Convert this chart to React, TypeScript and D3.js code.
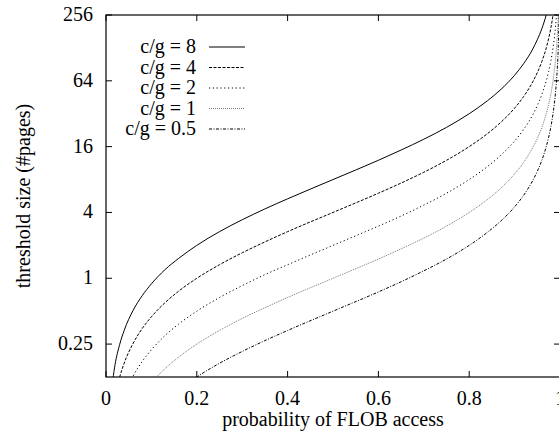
import React, { useEffect, useRef } from 'react';
import * as d3 from 'd3';

// probability of FLOB access (x) at which the curves were read
const probs = [0.01, 0.02, 0.03, 0.04, 0.06, 0.08, 0.1, 0.13, 0.16, 0.2, 0.25, 0.3, 0.35, 0.4, 0.5, 0.6, 0.65, 0.7, 0.75, 0.8, 0.84, 0.87, 0.9, 0.92, 0.94, 0.95, 0.96, 0.97, 0.975, 0.98, 0.985, 0.99, 0.993, 0.996, 0.998];

// threshold size (#pages), one list per c/g ratio
const cg8 = [0.0808, 0.163, 0.247, 0.333, 0.511, 0.696, 0.889, 1.20, 1.52, 2.00, 2.67, 3.43, 4.31, 5.33, 8.00, 12.0, 14.9, 18.7, 24.0, 32.0, 42.0, 53.5, 72.0, 92.0, 125, 152, 192, 259, 312, 392, 525, 792, 1135, 1992, 3992];
const cg4 = [0.0404, 0.0816, 0.124, 0.167, 0.255, 0.348, 0.444, 0.598, 0.762, 1.00, 1.33, 1.71, 2.15, 2.67, 4.00, 6.00, 7.43, 9.33, 12.0, 16.0, 21.0, 26.8, 36.0, 46.0, 62.7, 76.0, 96.0, 129, 156, 196, 263, 396, 567, 996, 1996];
const cg2 = [0.0202, 0.0408, 0.0619, 0.0833, 0.128, 0.174, 0.222, 0.299, 0.381, 0.500, 0.667, 0.857, 1.08, 1.33, 2.00, 3.00, 3.71, 4.67, 6.00, 8.00, 10.5, 13.4, 18.0, 23.0, 31.3, 38.0, 48.0, 64.7, 78.0, 98.0, 131, 198, 284, 498, 998];
const cg1 = [0.0101, 0.0204, 0.0309, 0.0417, 0.0638, 0.0870, 0.111, 0.149, 0.190, 0.250, 0.333, 0.429, 0.538, 0.667, 1.00, 1.50, 1.86, 2.33, 3.00, 4.00, 5.25, 6.69, 9.00, 11.5, 15.7, 19.0, 24.0, 32.3, 39.0, 49.0, 65.7, 99.0, 142, 249, 499];
const cg05 = [0.00505, 0.0102, 0.0155, 0.0208, 0.0319, 0.0435, 0.0556, 0.0747, 0.0952, 0.125, 0.167, 0.214, 0.269, 0.333, 0.500, 0.750, 0.929, 1.17, 1.50, 2.00, 2.63, 3.35, 4.50, 5.75, 7.83, 9.50, 12.0, 16.2, 19.5, 24.5, 32.8, 49.5, 70.9, 125, 250];

const seriesLabels = ['c/g = 8', 'c/g = 4', 'c/g = 2', 'c/g = 1', 'c/g = 0.5'];
const seriesValues = [cg8, cg4, cg2, cg1, cg05];

const xTicks = [0, 0.2, 0.4, 0.6, 0.8, 1];
const xTickLabels = ['0', '0.2', '0.4', '0.6', '0.8', '1'];
const yTicks = [0.25, 1, 4, 16, 64, 256];
const yTickLabels = ['0.25', '1', '4', '16', '64', '256'];

const styles = [
    { dash: null, color: '#000' },
    { dash: '3,1.5', color: '#000' },
    { dash: '1.2,2.6', color: '#000' },
    { dash: '1,1', color: '#777' },
    { dash: '3,1.5,1,1.5', color: '#000' },
];

const App = () => {
    const svgRef = useRef<SVGSVGElement>(null);
    const width = 559;
    const height = 432;
    const margin = { top: 15, right: -1, bottom: 55, left: 106 };
    const font = "'Liberation Serif', Tinos, 'Times New Roman', Times, 'DejaVu Serif', serif";

    useEffect(() => {
        const svg = d3.select(svgRef.current);
        svg.selectAll('*').remove();

        const x = d3.scaleLinear()
            .domain([0, 1])
            .range([margin.left, width - margin.right]);

        const y = d3.scaleLog()
            .base(2)
            .domain([0.125, 256])
            .range([height - margin.bottom, margin.top]);

        const x0 = x(0), x1 = x(1), yTop = y(256), yBot = y(0.125);

        svg.append('defs')
            .append('clipPath')
            .attr('id', 'plot-clip')
            .append('rect')
            .attr('x', x0)
            .attr('y', yTop)
            .attr('width', x1 - x0)
            .attr('height', yBot - yTop);

        // curves
        const line = d3.line<number>()
            .x((d, i) => x(probs[i]))
            .y(d => y(d))
            .curve(d3.curveMonotoneX);

        const curves = svg.append('g').attr('clip-path', 'url(#plot-clip)');
        seriesValues.forEach((vals, i) => {
            curves.append('path')
                .datum(vals)
                .attr('fill', 'none')
                .attr('stroke', styles[i].color)
                .attr('stroke-width', 1)
                .attr('stroke-dasharray', styles[i].dash)
                .attr('d', line);
        });

        // frame
        svg.append('rect')
            .attr('x', x0)
            .attr('y', yTop)
            .attr('width', x1 - x0)
            .attr('height', yBot - yTop)
            .attr('fill', 'none')
            .attr('stroke', '#000')
            .attr('stroke-width', 1.2);

        // ticks
        const tickLen = 6;
        const ticks = svg.append('g').attr('stroke', '#000').attr('stroke-width', 1);
        xTicks.forEach(t => {
            ticks.append('line').attr('x1', x(t)).attr('x2', x(t)).attr('y1', yBot).attr('y2', yBot - tickLen);
            ticks.append('line').attr('x1', x(t)).attr('x2', x(t)).attr('y1', yTop).attr('y2', yTop + tickLen);
        });
        yTicks.forEach(t => {
            ticks.append('line').attr('x1', x0).attr('x2', x0 + tickLen).attr('y1', y(t)).attr('y2', y(t));
            ticks.append('line').attr('x1', x1).attr('x2', x1 - tickLen).attr('y1', y(t)).attr('y2', y(t));
        });

        const labels = svg.append('g')
            .style('font-family', font)
            .attr('font-size', 20)
            .attr('fill', '#000');

        labels.selectAll('text.xt')
            .data(xTicks)
            .join('text')
            .attr('class', 'xt')
            .attr('x', d => x(d))
            .attr('y', yBot + 28)
            .attr('text-anchor', 'middle')
            .text((d, i) => xTickLabels[i]);

        labels.selectAll('text.yt')
            .data(yTicks)
            .join('text')
            .attr('class', 'yt')
            .attr('x', x0 - 13)
            .attr('y', d => y(d) + 6)
            .attr('text-anchor', 'end')
            .text((d, i) => yTickLabels[i]);

        labels.append('text')
            .attr('x', (x0 + x1) / 2)
            .attr('y', yBot + 49)
            .attr('text-anchor', 'middle')
            .text('probability of FLOB access');

        labels.append('text')
            .attr('transform', `translate(30, ${(yTop + yBot) / 2}) rotate(-90)`)
            .attr('text-anchor', 'middle')
            .text('threshold size (#pages)');

        // legend
        const legend = svg.append('g');
        seriesLabels.forEach((lab, i) => {
            const ly = 47 + i * 20.5;
            legend.append('text')
                .attr('x', 196)
                .attr('y', ly + 6)
                .attr('text-anchor', 'end')
                .style('font-family', font)
                .attr('font-size', 20)
                .text(lab);
            legend.append('line')
                .attr('x1', 209)
                .attr('x2', 245)
                .attr('y1', ly)
                .attr('y2', ly)
                .attr('stroke', styles[i].color)
                .attr('stroke-width', 1)
                .attr('stroke-dasharray', styles[i].dash);
        });
    }, []);

    return (
        <svg
            ref={svgRef}
            width={width}
            height={height}
            style={{ position: 'absolute', left: 0, top: 0, background: '#fff' }}
        />
    );
};

export default App;
